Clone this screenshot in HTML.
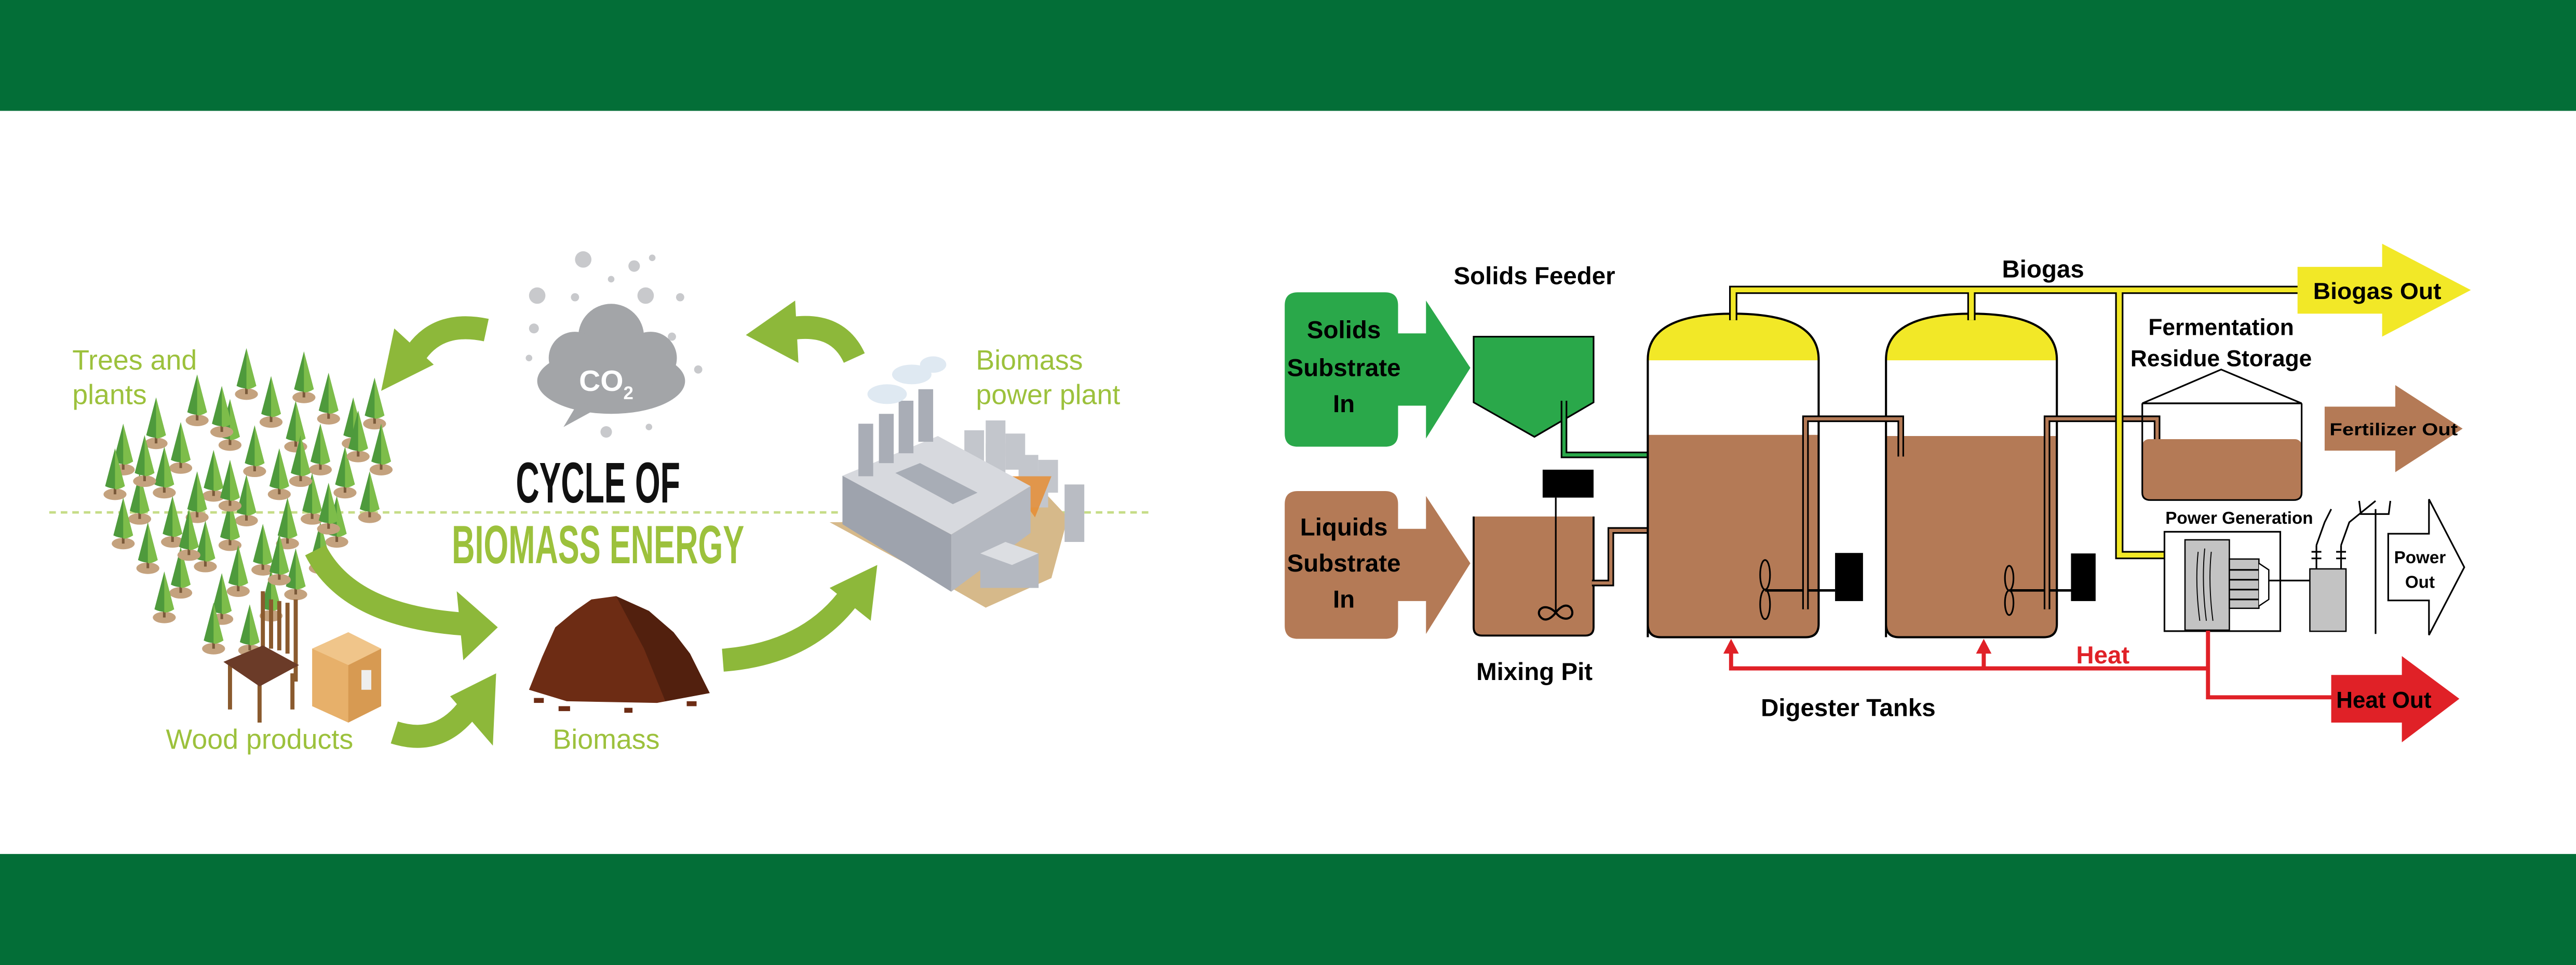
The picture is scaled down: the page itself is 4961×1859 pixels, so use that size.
<!DOCTYPE html>
<html><head><meta charset="utf-8"><style>
html,body{margin:0;padding:0;background:#fff;}
svg{display:block;}
.t{font-family:"Liberation Sans Narrow","Liberation Sans",sans-serif;font-weight:bold;}
.g{font-family:"Liberation Sans",sans-serif;fill:#9cc13c;}
</style></head><body>
<svg width="4961" height="1859" viewBox="0 0 1568 587.6" preserveAspectRatio="none" xmlns="http://www.w3.org/2000/svg">
<defs>
<g id="tree">
<ellipse cx="0" cy="0" rx="7" ry="3.5" fill="#c4a27e"/>
<rect x="-0.8" y="-6" width="1.6" height="6" fill="#7a5a3a"/>
<path d="M0,-28 L-6,-5 Q0,-2 6,-5 Z" fill="#4e9a3c"/>
<path d="M0,-28 L0,-3 Q3,-3 6,-5 Z" fill="#7dbd4a"/>
</g>
<clipPath id="t1"><path d="M1003,388 L1003,219 Q1003,191 1055,191 Q1107,191 1107,219 L1107,380 Q1107,388 1099,388 L1011,388 Q1003,388 1003,380 Z"/></clipPath>
<clipPath id="t2"><path d="M1148,388 L1148,219 Q1148,191 1200,191 Q1252,191 1252,219 L1252,380 Q1252,388 1244,388 L1156,388 Q1148,388 1148,380 Z"/></clipPath>
</defs>

<rect x="0" y="0" width="1568" height="67.5" fill="#036e37"/>
<rect x="0" y="520" width="1568" height="68" fill="#036e37"/>

<!-- ============ LEFT ============ -->
<line x1="30" y1="312" x2="702" y2="312" stroke="#c5dc86" stroke-width="1.5" stroke-dasharray="4,3"/>

<g fill="#c8c9cc">
<circle cx="355" cy="158" r="5"/><circle cx="386" cy="162" r="3.5"/><circle cx="397" cy="157" r="2"/>
<circle cx="372" cy="170" r="2"/><circle cx="327" cy="180" r="5"/><circle cx="350" cy="181" r="2.5"/>
<circle cx="393" cy="180" r="5"/><circle cx="414" cy="181" r="2.5"/><circle cx="325" cy="200" r="3"/>
<circle cx="409" cy="205" r="2.5"/><circle cx="322" cy="218" r="2"/><circle cx="425" cy="225" r="2.5"/>
<circle cx="369" cy="263" r="3.5"/><circle cx="395" cy="260" r="2"/>
</g>
<g fill="#a3a5a8">
<ellipse cx="372" cy="232" rx="45" ry="20"/>
<circle cx="372" cy="205" r="20"/><circle cx="350" cy="218" r="16"/><circle cx="396" cy="218" r="16"/>
<path d="M352,245 L343,260 L365,248 Z"/>
</g>
<text x="369" y="238" font-family="Liberation Sans,sans-serif" font-weight="bold" font-size="18" fill="#fff" text-anchor="middle">CO<tspan font-size="11" dy="5">2</tspan></text>

<text x="364" y="306" text-anchor="middle" class="t" font-size="35" fill="#111" textLength="100" lengthAdjust="spacingAndGlyphs">CYCLE OF</text>
<text x="364" y="343" text-anchor="middle" class="t" font-size="33" fill="#9cc13c" textLength="178" lengthAdjust="spacingAndGlyphs">BIOMASS ENERGY</text>

<text x="44" y="225" class="g" font-size="17">Trees and</text>
<text x="44" y="246" class="g" font-size="17">plants</text>
<text x="594" y="225" class="g" font-size="17">Biomass</text>
<text x="594" y="246" class="g" font-size="17">power plant</text>
<text x="158" y="456" class="g" font-size="17" text-anchor="middle">Wood products</text>
<text x="369" y="456" class="g" font-size="17" text-anchor="middle">Biomass</text>

<g>
<use href="#tree" x="150" y="240"/><use href="#tree" x="185" y="242"/>
<use href="#tree" x="120" y="256"/><use href="#tree" x="165" y="257"/><use href="#tree" x="200" y="255"/><use href="#tree" x="228" y="258"/>
<use href="#tree" x="95" y="270"/><use href="#tree" x="140" y="271"/><use href="#tree" x="180" y="272"/><use href="#tree" x="215" y="270"/>
<use href="#tree" x="75" y="286"/><use href="#tree" x="110" y="285"/><use href="#tree" x="155" y="287"/><use href="#tree" x="195" y="286"/><use href="#tree" x="232" y="286"/>
<use href="#tree" x="70" y="301"/><use href="#tree" x="100" y="300"/><use href="#tree" x="130" y="302"/><use href="#tree" x="170" y="301"/><use href="#tree" x="210" y="300"/>
<use href="#tree" x="85" y="316"/><use href="#tree" x="120" y="315"/><use href="#tree" x="150" y="317"/><use href="#tree" x="190" y="316"/><use href="#tree" x="225" y="315"/>
<use href="#tree" x="75" y="331"/><use href="#tree" x="105" y="330"/><use href="#tree" x="140" y="332"/><use href="#tree" x="175" y="331"/><use href="#tree" x="205" y="330"/>
<use href="#tree" x="90" y="346"/><use href="#tree" x="125" y="345"/><use href="#tree" x="160" y="347"/><use href="#tree" x="195" y="346"/>
<use href="#tree" x="110" y="361"/><use href="#tree" x="145" y="360"/><use href="#tree" x="180" y="362"/>
<use href="#tree" x="100" y="376"/><use href="#tree" x="135" y="377"/><use href="#tree" x="165" y="375"/>
<use href="#tree" x="130" y="395"/><use href="#tree" x="152" y="396"/>
<use href="#tree" x="135" y="263"/><use href="#tree" x="88" y="293"/><use href="#tree" x="183" y="293"/><use href="#tree" x="140" y="308"/><use href="#tree" x="200" y="322"/><use href="#tree" x="115" y="338"/><use href="#tree" x="170" y="353"/><use href="#tree" x="218" y="278"/>
</g>

<g stroke="#8a5a2e" stroke-width="2.5" fill="none">
<line x1="160" y1="360" x2="160" y2="410"/><line x1="180" y1="365" x2="180" y2="415"/>
<line x1="165" y1="365" x2="165" y2="395"/><line x1="170" y1="366" x2="170" y2="396"/><line x1="175" y1="367" x2="175" y2="398"/>
<line x1="140" y1="405" x2="140" y2="432"/><line x1="158" y1="415" x2="158" y2="440"/><line x1="178" y1="410" x2="178" y2="432"/>
</g>
<path d="M136,403 L160,393 L182,405 L158,418 Z" fill="#6b3b28"/>
<path d="M190,395 L212,385 L232,395 L232,430 L212,440 L190,430 Z" fill="#e7b06a"/>
<path d="M212,405 L232,395 L232,430 L212,440 Z" fill="#d79a52"/>
<path d="M190,395 L212,385 L232,395 L212,405 Z" fill="#f0c58a"/>
<rect x="220" y="408" width="6" height="12" fill="#eee"/>

<path d="M330,400 L338,382 L350,372 L360,365 L375,363 L395,372 L410,385 L420,398 L432,422 L400,428 L345,427 L322,420 Z" fill="#6d2c14"/>
<path d="M375,363 L395,372 L410,385 L420,398 L432,422 L405,427 L392,395 Z" fill="#52200e"/>
<g fill="#6d2c14"><rect x="325" y="425" width="6" height="3"/><rect x="340" y="430" width="7" height="3"/><rect x="418" y="427" width="6" height="3"/><rect x="380" y="431" width="5" height="3"/></g>

<g fill="none" stroke="#8db83a" stroke-width="14">
<path d="M296,201 Q268,195 254,214"/>
<path d="M520,218 Q510,196 482,200"/>
<path d="M192,335 Q212,375 282,380"/>
<path d="M240,446 Q268,455 286,430"/>
<path d="M440,402 Q492,398 518,362"/>
</g>
<g fill="#8db83a">
<polygon points="264,222 240,200 232,238"/>
<polygon points="484,183 486,221 454,204"/>
<polygon points="278,360 282,402 303,382"/>
<polygon points="274,424 302,410 300,454"/>
<polygon points="505,358 534,344 530,378"/>
</g>

<!-- power plant -->
<path d="M505,318 L579,358 L600,370 L640,352 L650,315 L636,300 L620,290 L512,318 Z" fill="#d6b98a"/>
<g fill="#c3c6cc"><rect x="587" y="262" width="12" height="22"/><rect x="600" y="256" width="12" height="22"/><rect x="612" y="264" width="12" height="22"/><rect x="600" y="270" width="12" height="22"/><rect x="620" y="277" width="12" height="22"/><rect x="632" y="280" width="12" height="20"/><rect x="626" y="287" width="12" height="22"/></g>
<path d="M612,290 L640,290 L630,315 Z" fill="#e88a2a" opacity="0.8"/>
<rect x="648" y="295" width="12" height="35" fill="#b9bcc3"/>
<path d="M512.8,289.7 L570.9,265.5 L627.3,296 L579,325.5 Z" fill="#d7d9de"/>
<path d="M512.8,289.7 L579,325.5 L579,360.3 L512.8,319.2 Z" fill="#9ea3ad"/>
<path d="M579,325.5 L627.3,296 L627.3,324.5 L579,360.3 Z" fill="#b4b8c0"/>
<path d="M545,288 L560,282 L595,300 L580,307 Z" fill="#a8adb6"/>
<rect x="596.7" y="337" width="35.5" height="21" fill="#b4b8c0"/>
<path d="M596.7,337 L612,330 L632,337 L616,344 Z" fill="#dcdee2"/>
<g fill="#a9adb6"><rect x="522.5" y="258" width="9" height="32"/><rect x="535" y="252" width="9" height="30"/><rect x="547" y="244" width="9" height="32"/><rect x="559" y="237" width="9" height="32"/></g>
<g fill="#dfe9f2"><ellipse cx="540" cy="240" rx="12" ry="6"/><ellipse cx="555" cy="228" rx="12" ry="6"/><ellipse cx="568" cy="222" rx="8" ry="5"/></g>

<!-- ============ RIGHT ============ -->
<path d="M790,178 L843,178 Q851,178 851,186 L851,203 L868,203 L868,183 L895,224 L868,267 L868,247 L851,247 L851,264 Q851,272 843,272 L790,272 Q782,272 782,264 L782,186 Q782,178 790,178 Z" fill="#2aa84a"/>
<g class="t" font-size="15" text-anchor="middle" fill="#000">
<text x="818" y="206">Solids</text><text x="818" y="229">Substrate</text><text x="818" y="251">In</text>
</g>
<path d="M790,299 L843,299 Q851,299 851,307 L851,322 L868,322 L868,302 L895,343 L868,386 L868,366 L851,366 L851,381 Q851,389 843,389 L790,389 Q782,389 782,381 L782,307 Q782,299 790,299 Z" fill="#b47a56"/>
<g class="t" font-size="15" text-anchor="middle" fill="#000">
<text x="818" y="326">Liquids</text><text x="818" y="348">Substrate</text><text x="818" y="370">In</text>
</g>

<path d="M897,205 L970,205 L970,245 L934,266 L897,245 Z" fill="#2aa84a" stroke="#000" stroke-width="1"/>
<path d="M952,244 L952,277 L1004,277" fill="none" stroke="#000" stroke-width="4"/>
<path d="M952,244 L952,277 L1004,277" fill="none" stroke="#2aa84a" stroke-width="2"/>
<text x="934" y="173" class="t" font-size="15" text-anchor="middle">Solids Feeder</text>

<path d="M897,314.5 L970,314.5 L970,382 Q970,387 965,387 L902,387 Q897,387 897,382 Z" fill="#b47a56"/>
<path d="M897,314.5 L897,382 Q897,387 902,387 L965,387 Q970,387 970,382 L970,314.5" fill="none" stroke="#000" stroke-width="1.2"/>
<rect x="939" y="286" width="31" height="17" fill="#000"/>
<line x1="947" y1="303" x2="947" y2="373" stroke="#000" stroke-width="1"/>
<path d="M947,373 C940,366 934,372 938,376 C942,380 947,373 947,373 C947,373 952,366 956,370 C960,376 952,380 947,373 Z" fill="none" stroke="#000" stroke-width="1.3"/>
<path d="M969,355 L980.5,355 L980.5,323 L1004,323" fill="none" stroke="#000" stroke-width="4"/>
<path d="M969,355 L980.5,355 L980.5,323 L1004,323" fill="none" stroke="#b47a56" stroke-width="2"/>
<text x="934" y="414" class="t" font-size="15" text-anchor="middle">Mixing Pit</text>

<g clip-path="url(#t1)"><rect x="1000" y="188" width="110" height="205" fill="#fff"/><rect x="1000" y="188" width="110" height="31.4" fill="#f2e827"/><rect x="1000" y="264.8" width="110" height="130" fill="#b47a56"/></g>
<path d="M1003,388 L1003,219 Q1003,191 1055,191 Q1107,191 1107,219 L1107,380 Q1107,388 1099,388 L1011,388 Q1003,388 1003,380 Z" fill="none" stroke="#000" stroke-width="1.3"/>
<g clip-path="url(#t2)"><rect x="1145" y="188" width="110" height="205" fill="#fff"/><rect x="1145" y="188" width="110" height="31.4" fill="#f2e827"/><rect x="1145" y="265.5" width="110" height="130" fill="#b47a56"/></g>
<path d="M1148,388 L1148,219 Q1148,191 1200,191 Q1252,191 1252,219 L1252,380 Q1252,388 1244,388 L1156,388 Q1148,388 1148,380 Z" fill="none" stroke="#000" stroke-width="1.3"/>

<g fill="none" stroke="#000" stroke-width="1">
<ellipse cx="1074.4" cy="350" rx="3" ry="9"/><ellipse cx="1074.4" cy="368" rx="3" ry="9"/>
<line x1="1074.4" y1="359.5" x2="1117" y2="359.5" stroke-width="1.5"/>
<ellipse cx="1223" cy="352" rx="2.6" ry="7.5"/><ellipse cx="1223" cy="367" rx="2.6" ry="7.5"/>
<line x1="1223" y1="359.5" x2="1261" y2="359.5" stroke-width="1.5"/>
</g>
<rect x="1117" y="336.7" width="17" height="29.3" fill="#000"/>
<rect x="1260.6" y="337" width="15" height="29" fill="#000"/>

<path d="M1099,371 L1099,255 L1157,255 L1157,278" fill="none" stroke="#000" stroke-width="4"/>
<path d="M1099,371 L1099,255 L1157,255 L1157,278" fill="none" stroke="#b47a56" stroke-width="2"/>
<path d="M1246,371 L1246,255 L1313,255 L1313,271" fill="none" stroke="#000" stroke-width="4"/>
<path d="M1246,371 L1246,255 L1313,255 L1313,271" fill="none" stroke="#b47a56" stroke-width="2"/>

<path d="M1055,195 L1055,176.5 L1399,176.5 M1200,195 L1200,176.5 M1290,176.5 L1290,338 L1331,338" fill="none" stroke="#000" stroke-width="5"/>
<path d="M1055,195 L1055,176.5 L1399,176.5 M1200,195 L1200,176.5 M1290,176.5 L1290,338 L1331,338" fill="none" stroke="#f2e827" stroke-width="3"/>
<text x="1243.6" y="169" class="t" font-size="15" text-anchor="middle">Biogas</text>
<path d="M1398.5,162.5 L1450,162.5 L1450,148.4 L1504,176.6 L1450,205 L1450,191 L1398.5,191 Z" fill="#f2e827"/>
<text x="1408" y="182" class="t" font-size="14" textLength="78" lengthAdjust="spacingAndGlyphs">Biogas Out</text>

<path d="M1304,245.6 L1352,225 L1401,245.6 Z" fill="#fff" stroke="#000" stroke-width="1"/>
<rect x="1304" y="267.4" width="97" height="37" rx="4" fill="#b47a56"/>
<path d="M1304,245.6 L1304,300 Q1304,304.5 1309,304.5 L1396,304.5 Q1401,304.5 1401,300 L1401,245.6" fill="none" stroke="#000" stroke-width="1"/>
<line x1="1304" y1="245.6" x2="1401" y2="245.6" stroke="#000" stroke-width="1"/>
<text x="1352" y="204" class="t" font-size="14" text-anchor="middle">Fermentation</text>
<text x="1352" y="223" class="t" font-size="14" text-anchor="middle">Residue Storage</text>
<path d="M1415,247.6 L1458,247.6 L1458,234.5 L1499,261 L1458,287.5 L1458,274.4 L1415,274.4 Z" fill="#b47a56"/>
<text x="1418" y="265" class="t" font-size="10.5" textLength="78" lengthAdjust="spacingAndGlyphs">Fertilizer Out</text>

<text x="1363" y="319" class="t" font-size="10.5" text-anchor="middle">Power Generation</text>
<rect x="1317.5" y="323.8" width="70.5" height="60.5" fill="#fff" stroke="#000" stroke-width="1"/>
<rect x="1330" y="328.7" width="27" height="55" fill="#c3c3c3" stroke="#000" stroke-width="0.8"/>
<g fill="none" stroke="#000" stroke-width="0.6"><path d="M1338,336 Q1336,355 1339,378"/><path d="M1342,334 Q1340,355 1343,378"/><path d="M1346,336 Q1344,355 1347,378"/></g>
<rect x="1357" y="340.4" width="18" height="30" fill="#c3c3c3" stroke="#000" stroke-width="0.8"/>
<g stroke="#000" stroke-width="1"><line x1="1357" y1="347" x2="1375" y2="347"/><line x1="1357" y1="353" x2="1375" y2="353"/><line x1="1357" y1="359" x2="1375" y2="359"/><line x1="1357" y1="365" x2="1375" y2="365"/></g>
<path d="M1375,343 L1381,347 L1381,365 L1375,369" fill="#fff" stroke="#000" stroke-width="0.8"/>
<line x1="1381" y1="353.5" x2="1406" y2="353.5" stroke="#000" stroke-width="1"/>
<rect x="1406" y="346.4" width="22" height="38" fill="#c3c3c3" stroke="#000" stroke-width="0.8"/>
<g stroke="#000" stroke-width="1" fill="none">
<line x1="1410" y1="346" x2="1410" y2="332"/><line x1="1425" y1="346" x2="1425" y2="332"/>
<line x1="1407" y1="336" x2="1413" y2="336"/><line x1="1407" y1="340" x2="1413" y2="340"/><line x1="1422" y1="336" x2="1428" y2="336"/><line x1="1422" y1="340" x2="1428" y2="340"/>
<path d="M1410,332 L1415,318 L1419,310"/><path d="M1425,332 L1430,318 L1446,305"/>
<line x1="1446" y1="310" x2="1446" y2="386"/>
<path d="M1436,305 L1437,313 L1454,313 L1455,305"/>
</g>
<path d="M1453.7,325 L1478.5,325 L1478.5,304 L1500,345.4 L1478.5,386.7 L1478.5,365.6 L1453.7,365.6 Z" fill="#fff" stroke="#000" stroke-width="1"/>
<text x="1473" y="343" class="t" font-size="10.5" text-anchor="middle">Power</text>
<text x="1473" y="358" class="t" font-size="10.5" text-anchor="middle">Out</text>

<g fill="none" stroke="#e02127" stroke-width="2.5">
<path d="M1053.7,393 L1053.7,407 L1344,407"/>
<path d="M1207.5,393 L1207.5,407"/>
<path d="M1344,384 L1344,424.6 L1420,424.6"/>
</g>
<g fill="#e02127"><polygon points="1053.7,389 1049,398 1058.4,398"/><polygon points="1207.5,389 1202.8,398 1212.2,398"/></g>
<text x="1280" y="404" class="t" font-size="15" text-anchor="middle" fill="#e02127">Heat</text>
<path d="M1419,411 L1462,411 L1462,399.5 L1497,425.5 L1462,452 L1462,440 L1419,440 Z" fill="#e02127"/>
<text x="1422" y="431" class="t" font-size="14" textLength="58" lengthAdjust="spacingAndGlyphs">Heat Out</text>
<text x="1125" y="436" class="t" font-size="15" text-anchor="middle">Digester Tanks</text>
</svg>
</body></html>
